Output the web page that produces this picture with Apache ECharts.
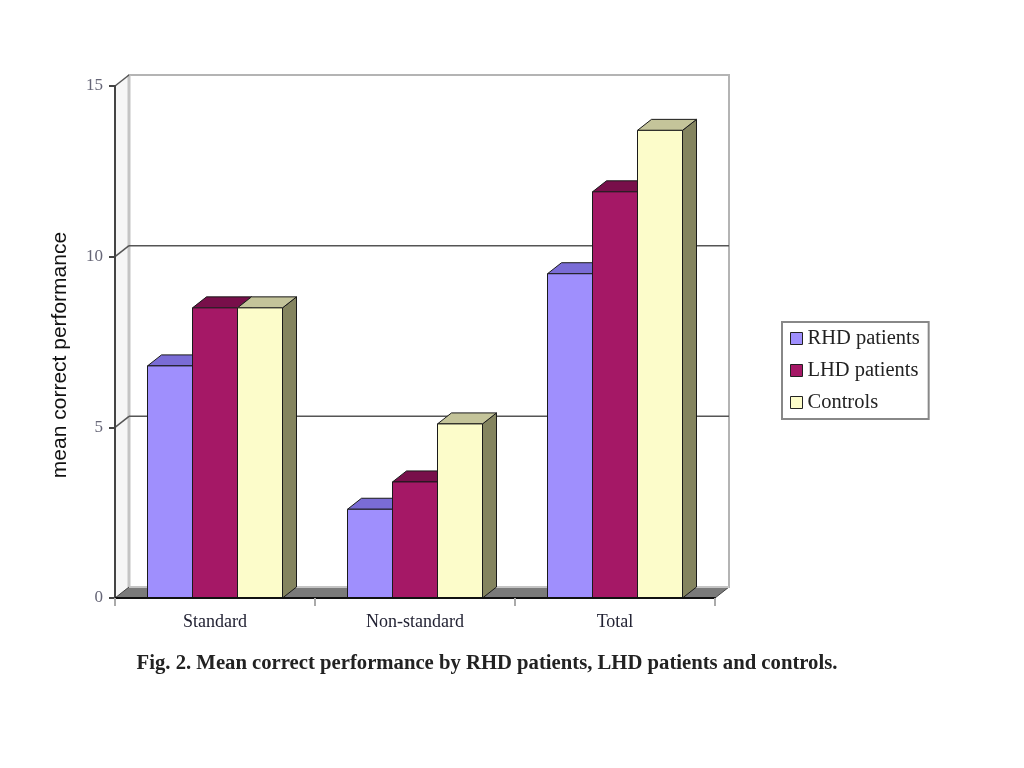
<!DOCTYPE html>
<html>
<head>
<meta charset="utf-8">
<script src="https://cdn.jsdelivr.net/npm/echarts@6/dist/echarts.min.js"></script>
<style>html,body{margin:0;padding:0;background:#fff}#c{width:1024px;height:768px}</style>
</head>
<body>
<div id="c"></div>
<script>
// ---- data ----
var categories = ['Standard', 'Non-standard', 'Total'];
var seriesNames = ['RHD patients', 'LHD patients', 'Controls'];
var rhd = [6.8, 2.6, 9.5];
var lhd = [8.5, 3.4, 11.9];
var controls = [8.5, 5.1, 13.7];
var yTicks = [0, 5, 10, 15];
var caption = 'Fig. 2. Mean correct performance by RHD patients, LHD patients and controls.';
var yName = 'mean correct performance';

// ---- style ----
var DX = 14, DY = -11;
var palette = [
  {front: '#9F8FFD', top: '#7A6CD6', side: '#6657B4'},
  {front: '#A51866', top: '#780F4A', side: '#5A0A36'},
  {front: '#FCFCCA', top: '#C4C49A', side: '#84845F'}
];
var serif = '"Liberation Serif", "Times New Roman", serif';

var chart = echarts.init(document.getElementById('c'), null, {renderer: 'canvas'});

function renderWalls(params, api) {
  var cs = params.coordSys;
  var x0 = cs.x, x1 = cs.x + cs.width;
  var yb = api.coord([0, yTicks[0]])[1];
  var yt = api.coord([0, yTicks[yTicks.length - 1]])[1];
  var children = [];
  children.push({type: 'rect', shape: {x: x0 + DX, y: yt + DY, width: x1 - x0, height: yb - yt},
    style: {fill: '#ffffff', stroke: '#b4b4b4', lineWidth: 2}});
  children.push({type: 'polygon', shape: {points: [[x0, yt], [x0 + DX, yt + DY], [x0 + DX, yb + DY], [x0, yb]]},
    style: {fill: '#f6f6f6', stroke: null}});
  children.push({type: 'line', shape: {x1: x0 + DX, y1: yt + DY, x2: x0 + DX, y2: yb + DY},
    style: {stroke: '#c4c4c4', lineWidth: 3}});
  for (var i = 1; i < yTicks.length; i++) {
    var y = api.coord([0, yTicks[i]])[1];
    children.push({type: 'line', shape: {x1: x0, y1: y, x2: x0 + DX, y2: y + DY},
      style: {stroke: '#555', lineWidth: 1.5}});
    if (i < yTicks.length - 1) {
      children.push({type: 'line', shape: {x1: x0 + DX, y1: y + DY, x2: x1 + DX, y2: y + DY},
        style: {stroke: '#555', lineWidth: 1.5}});
    }
  }
  children.push({type: 'polygon', shape: {points: [[x0, yb], [x1, yb], [x1 + DX, yb + DY], [x0 + DX, yb + DY]]},
    style: {fill: '#7a7a7a', stroke: '#444', lineWidth: 1}});
  children.push({type: 'line', shape: {x1: x0 + DX, y1: yb + DY, x2: x1 + DX, y2: yb + DY},
    style: {stroke: '#c4c4c4', lineWidth: 2}});
  return {type: 'group', children: children};
}

function makeBarRender(si) {
  return function (params, api) {
    var ci = api.value(0), v = api.value(1);
    var base = api.coord([ci, 0]);
    var top = api.coord([ci, v]);
    var band = api.size([1, 0])[0];
    var bw = band * 0.225;
    var xl = base[0] - 1.5 * bw + si * bw;
    var xr = xl + bw;
    var yt = top[1], yb = base[1];
    var c = palette[si];
    var edge = {stroke: '#1a1a1a', lineWidth: 1};
    return {type: 'group', children: [
      {type: 'polygon', shape: {points: [[xr, yt], [xr + DX, yt + DY], [xr + DX, yb + DY], [xr, yb]]},
        style: Object.assign({fill: c.side}, edge)},
      {type: 'polygon', shape: {points: [[xl, yt], [xr, yt], [xr + DX, yt + DY], [xl + DX, yt + DY]]},
        style: Object.assign({fill: c.top}, edge)},
      {type: 'rect', shape: {x: xl, y: yt, width: bw, height: yb - yt},
        style: Object.assign({fill: c.front}, edge)}
    ]};
  };
}

var values = [rhd, lhd, controls];
var series = [{
  type: 'custom', name: '_walls', renderItem: renderWalls, data: [[0, 0]], silent: true, z: 1
}];
for (var s = 0; s < 3; s++) {
  series.push({
    type: 'custom', name: seriesNames[s], z: 3,
    itemStyle: {color: palette[s].front},
    renderItem: makeBarRender(s),
    encode: {x: 0, y: 1},
    data: values[s].map(function (v, i) { return [i, v]; })
  });
}

chart.setOption({
  animation: false,
  backgroundColor: '#ffffff',
  grid: {left: 115, right: 309, top: 86, bottom: 170, containLabel: false},
  xAxis: {
    type: 'category', data: categories, boundaryGap: true,
    axisLine: {show: true, lineStyle: {color: '#111', width: 2}},
    axisTick: {show: true, length: 8, lineStyle: {color: '#aaa', width: 2}},
    axisLabel: {margin: 15, fontFamily: serif, fontSize: 18, color: '#223'},
    splitLine: {show: false}, z: 5
  },
  yAxis: {
    type: 'value', min: 0, max: 15, interval: 5,
    axisLine: {show: true, lineStyle: {color: '#444', width: 2}},
    axisTick: {show: true, length: 6, lineStyle: {color: '#444', width: 2}},
    axisLabel: {margin: 12, fontFamily: serif, fontSize: 17, color: '#667'},
    splitLine: {show: false}, z: 5
  },
  legend: {
    data: seriesNames.map(function (n) { return {name: n, icon: 'rect'}; }),
    orient: 'vertical', left: 782, top: 322,
    padding: [6, 9, 6, 8], itemGap: 11, itemWidth: 12, itemHeight: 12,
    borderColor: '#888', borderWidth: 2, backgroundColor: '#fff',
    itemStyle: {borderColor: '#222', borderWidth: 1},
    textStyle: {fontFamily: serif, fontSize: 20.5, lineHeight: 20, color: '#222'}
  },
  graphic: [{
    type: 'text', x: 487, y: 664,
    style: {text: caption, font: 'bold 20.7px ' + serif, fill: '#222',
      textAlign: 'center', textVerticalAlign: 'middle'}
  }, {
    type: 'text', x: 60, y: 355, rotation: Math.PI / 2,
    style: {text: yName, font: '21px "Liberation Sans", Arial, sans-serif', fill: '#111',
      textAlign: 'center', textVerticalAlign: 'middle'}
  }],
  series: series
});
</script>
</body>
</html>
